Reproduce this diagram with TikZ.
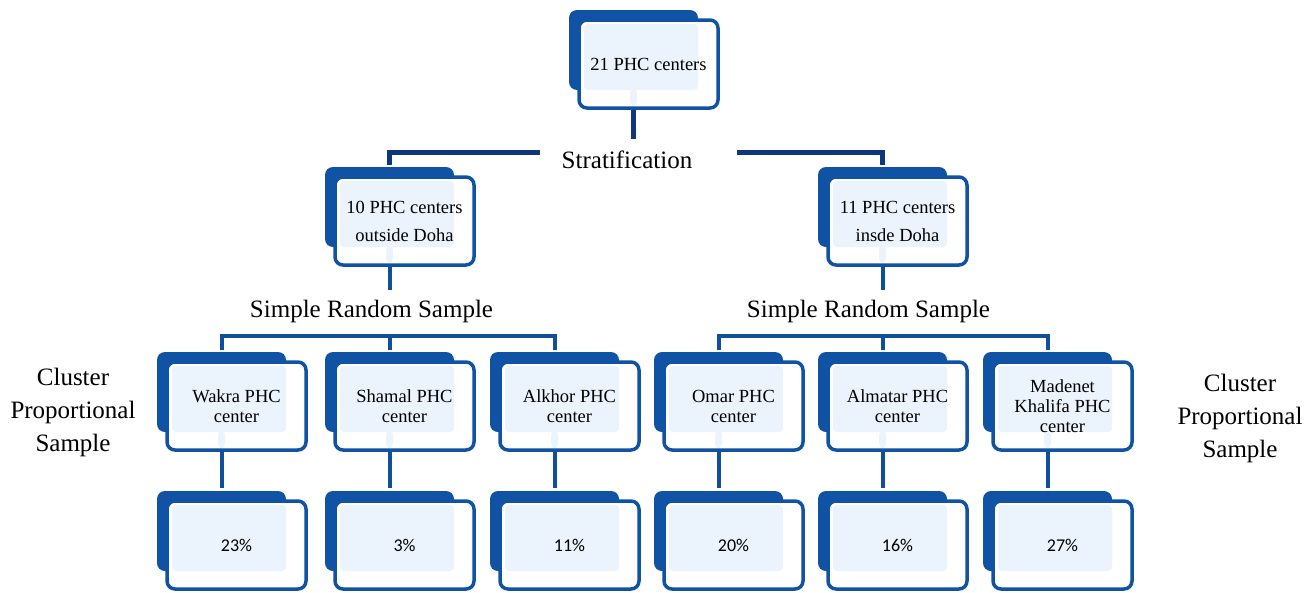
\documentclass[tikz,border=0pt]{standalone}
\usepackage{fontspec}
\setmainfont{Liberation Serif}
\newfontfamily\tnr{Liberation Serif}
\newfontfamily\pctfont{Carlito}
\usetikzlibrary{calc}
\definecolor{boxblue}{RGB}{16,82,164}
\definecolor{lightfill}{RGB}{235,243,252}
\definecolor{navycon}{RGB}{15,55,125}
\definecolor{conblue}{RGB}{18,78,158}
\tikzset{
  backbox/.style={fill=boxblue, rounded corners=8pt},
  framebox/.style={draw=boxblue, line width=3.5pt, fill=white, rounded corners=8pt,
    minimum width=139pt, minimum height=88pt, inner sep=0pt, align=center,
    font=\tnr\fontsize{18.5}{20}\selectfont},
  lightpic/.style={path picture={
      \fill[lightfill, rounded corners=4pt] ($(path picture bounding box.north west)+(5,4)$) rectangle ($(path picture bounding box.north west)+(119,70)$);
    }},
  stubpic/.style={path picture={
      \fill[lightfill, rounded corners=4pt] ($(path picture bounding box.north west)+(5,4)$) rectangle ($(path picture bounding box.north west)+(119,70)$);
      \fill[lightfill] ($(path picture bounding box.north west)+(51,66)$) rectangle ($(path picture bounding box.north west)+(58,88)$);
    }},
  frontbox/.style={framebox, stubpic},
  pctbox/.style={framebox, lightpic, font=\pctfont\fontsize{18}{20}\selectfont},
  midbox/.style={framebox, stubpic, font=\tnr\fontsize{18.5}{28}\selectfont},
  navyline/.style={draw=navycon, line width=5pt},
  blueline/.style={draw=conblue, line width=4pt},
  biglbl/.style={font=\tnr\fontsize{25}{33}\selectfont, align=center, inner sep=0pt},
}
\newcommand\phcbox[5]{%
  \fill[backbox] (#3,#4) rectangle ++(129,80);
  \node[#1] (#2) at (#3+79.5,#4+54) {#5};
}
\begin{document}
\begin{tikzpicture}[x=1pt,y=-1pt]
\useasboundingbox (0,0) rectangle (1314,592);
% level 1
\phcbox{frontbox}{top}{569}{10}{21 PHC centers}
% level 2
\phcbox{midbox}{outd}{325}{167}{10 PHC centers\\outside Doha}
\phcbox{midbox}{ind}{818}{167}{11 PHC centers\\insde Doha}
% level 3
\phcbox{frontbox}{wak}{157}{352}{Wakra PHC\\center}
\phcbox{frontbox}{sha}{325}{352}{Shamal PHC\\center}
\phcbox{frontbox}{alk}{490}{352}{Alkhor PHC\\center}
\phcbox{frontbox}{oma}{654}{352}{Omar PHC\\center}
\phcbox{frontbox}{alm}{818}{352}{Almatar PHC\\center}
\phcbox{frontbox}{mad}{983}{352}{Madenet\\Khalifa PHC\\center}
% level 4
\phcbox{pctbox}{pwak}{157}{491}{23\%}
\phcbox{pctbox}{psha}{325}{491}{3\%}
\phcbox{pctbox}{palk}{490}{491}{11\%}
\phcbox{pctbox}{poma}{654}{491}{20\%}
\phcbox{pctbox}{palm}{818}{491}{16\%}
\phcbox{pctbox}{pmad}{983}{491}{27\%}
% labels
\node[biglbl, anchor=base] (strat) at (627,168) {Stratification};
\node[biglbl, anchor=base] (srsl) at (371.5,317) {Simple Random Sample};
\node[biglbl, anchor=base] (srsr) at (868.5,317) {Simple Random Sample};
\node[biglbl] (cpsl) at (73,412) {Cluster\\Proportional\\Sample};
\node[biglbl] (cpsr) at (1240,418) {Cluster\\Proportional\\Sample};
% stratification connectors
\coordinate (sl) at (540,152.5);
\coordinate (sr) at (737,152.5);
\draw[navyline] ($(top.south)+(-15,0)$) -- ++(0,29);
\draw[navyline] (sl) -| ($(outd.north)+(-15,-10)$);
\draw[navyline] (sr) -| ($(ind.north)+(-15,-10)$);
% simple random sample connectors
\draw[blueline] ($(outd.south)+(-15,0)$) -- ++(0,23);
\draw[blueline] ($(ind.south)+(-15,0)$) -- ++(0,23);
\draw[blueline] ($(wak.north)+(-15,-10)$) -- ++(0,-14.5) -| ($(alk.north)+(-15,-10)$);
\draw[blueline] ($(sha.north)+(-15,-10)$) -- ++(0,-14.5);
\draw[blueline] ($(oma.north)+(-15,-10)$) -- ++(0,-14.5) -| ($(mad.north)+(-15,-10)$);
\draw[blueline] ($(alm.north)+(-15,-10)$) -- ++(0,-14.5);
% level 3 to 4
\foreach \a in {wak,sha,alk,oma,alm,mad}{
  \draw[blueline] ($(\a.south)+(-15,0)$) -- ++(0,36);
}
\end{tikzpicture}
\end{document}
